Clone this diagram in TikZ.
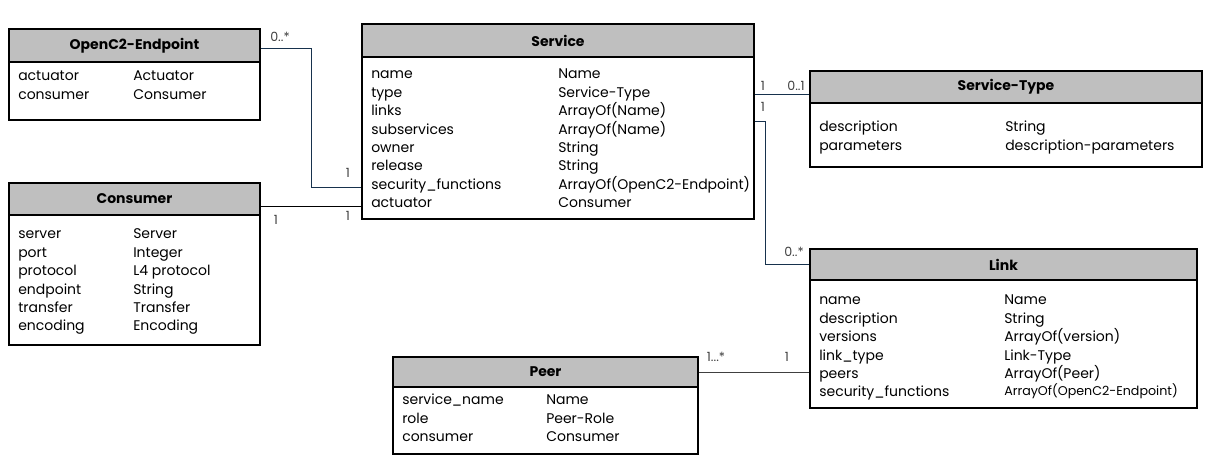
\documentclass[tikz,border=0pt]{standalone}
\usepackage{fontspec}
\setmainfont{Poppins}
\usetikzlibrary{fit}
\definecolor{headgray}{HTML}{BFBFBF}
\definecolor{navyline}{HTML}{17324D}
\definecolor{labelgray}{HTML}{404040}
\begin{document}
\begin{tikzpicture}[x=0.75pt,y=-0.75pt,
        box/.style={draw=black,thick,inner sep=0pt},
        head/.style={draw=black,thick,fill=headgray,inner sep=0pt},
        title/.style={inner sep=0pt,font=\fontsize{10.5}{12}\selectfont\bfseries},
        attr/.style={anchor=base west,inner sep=0pt,
          font=\fontsize{10.5}{12}\selectfont},
        conn/.style={draw=navyline,semithick},
        mult/.style={inner sep=0pt,text=labelgray,
          font=\fontsize{9.5}{11}\selectfont}]
      \useasboundingbox (0,0) rectangle (1208,463);
      % classes
      \node (oce) [box,fit={(9,29) (260,120)}] {};
      \node (oce-h) [head,fit={(9,29) (260,62)}] {};
      \node (oce-title) [title] at (oce-h.center) {OpenC2-Endpoint};
      \node (cons) [box,fit={(9,183) (260,345)}] {};
      \node (cons-h) [head,fit={(9,183) (260,215)}] {};
      \node (cons-title) [title] at (cons-h.center) {Consumer};
      \node (svc) [box,fit={(362,24) (754,219)}] {};
      \node (svc-h) [head,fit={(362,24) (754,57)}] {};
      \node (svc-title) [title] at (svc-h.center) {Service};
      \node (stype) [box,fit={(810,71) (1202,167)}] {};
      \node (stype-h) [head,fit={(810,71) (1202,103)}] {};
      \node (stype-title) [title] at (stype-h.center) {Service-Type};
      \node (link) [box,fit={(810,249) (1197,408)}] {};
      \node (link-h) [head,fit={(810,249) (1197,280)}] {};
      \node (link-title) [title] at (link-h.center) {Link};
      \node (peer) [box,fit={(393,357) (698,454)}] {};
      \node (peer-h) [head,fit={(393,357) (698,387)}] {};
      \node (peer-title) [title] at (peer-h.center) {Peer};
      % attributes
      \foreach \a/\t [count=\i] in {actuator/Actuator,consumer/Consumer}
        {\node (oce-a\i) [attr] at (18,81+18.4*\i-18.4) {\a};
         \node (oce-t\i) [attr] at (133,81+18.4*\i-18.4) {\t};}
      \foreach \a/\t [count=\i] in {server/Server,port/Integer,
          protocol/L4 protocol,endpoint/String,transfer/Transfer,
          encoding/Encoding}
        {\node (cons-a\i) [attr] at (18,239+18.4*\i-18.4) {\a};
         \node (cons-t\i) [attr] at (133,239+18.4*\i-18.4) {\t};}
      \foreach \a/\t [count=\i] in {name/Name,type/Service-Type,
          links/ArrayOf(Name),subservices/ArrayOf(Name),owner/String,
          release/String,security\_functions/ArrayOf(OpenC2-Endpoint),
          actuator/Consumer}
        {\node (svc-a\i) [attr] at (371,79+18.4*\i-18.4) {\a};
         \node (svc-t\i) [attr] at (558,79+18.4*\i-18.4) {\t};}
      \foreach \a/\t [count=\i] in {description/String,
          parameters/description-parameters}
        {\node (stype-a\i) [attr] at (819,132+18.4*\i-18.4) {\a};
         \node (stype-t\i) [attr] at (1005,132+18.4*\i-18.4) {\t};}
      \foreach \a/\t [count=\i] in {name/Name,description/String,
          versions/ArrayOf(version),link\_type/Link-Type,peers/ArrayOf(Peer)}
        {\node (link-a\i) [attr] at (819,305+18.4*\i-18.4) {\a};
         \node (link-t\i) [attr] at (1004,305+18.4*\i-18.4) {\t};}
      \node (link-a6) [attr] at (819,397) {security\_functions};
      \node (link-t6) [attr,font=\fontsize{9.5}{11}\selectfont] at (1004,396)
        {ArrayOf(OpenC2-Endpoint)};
      \foreach \a/\t [count=\i] in {service\_name/Name,role/Peer-Role,
          consumer/Consumer}
        {\node (peer-a\i) [attr] at (402,405+18.4*\i-18.4) {\a};
         \node (peer-t\i) [attr] at (546,405+18.4*\i-18.4) {\t};}
      % associations
      \coordinate (bend1) at (311,48);
      \coordinate (bend2) at (765,121);
      \draw[conn] (oce.east |- bend1) -- (bend1) |- (svc.west |- 0,187);
      \draw[conn,draw=black] (cons.east |- 0,206) -- (svc.west |- 0,206);
      \draw[conn] (svc.east |- 0,94) -- (stype.west |- 0,94);
      \draw[conn] (svc.east |- bend2) -- (bend2) |- (link-h.west);
      \draw[conn,draw=black!75] (peer-h.east) -- (link.west |- peer-h.east);
      % multiplicities
      \node (m1) [mult] at (280,37) {0..*};
      \node (m2) [mult] at (348,173) {1};
      \node (m3) [mult] at (276,220) {1};
      \node (m4) [mult] at (348,216) {1};
      \node (m5) [mult] at (763,86) {1};
      \node (m6) [mult] at (796,86) {0..1};
      \node (m7) [mult] at (763,107) {1};
      \node (m8) [mult] at (794,252) {0..*};
      \node (m9) [mult] at (716,357) {1...*};
      \node (m10) [mult] at (787,357) {1};
\end{tikzpicture}
\end{document}
